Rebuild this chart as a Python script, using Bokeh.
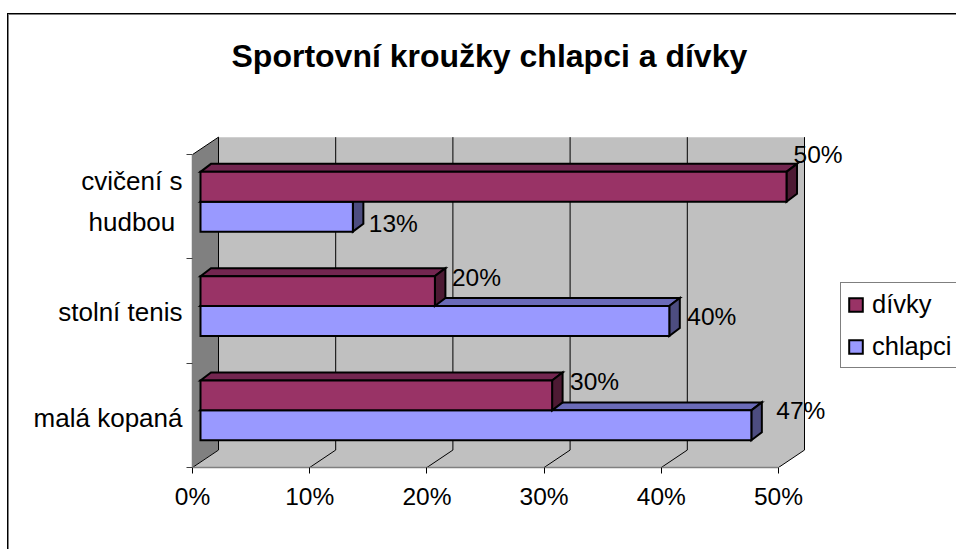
from bokeh.plotting import figure
from bokeh.core.properties import value
from bokeh.models import (ColumnDataSource, FixedTicker, LabelSet, Legend, LegendItem, Range1d)
from bokeh.embed import file_html
from bokeh.resources import INLINE

title_text = "Sportovní kroužky chlapci a dívky"
categories = ["malá kopaná", "stolní tenis", "cvičení s\nhudbou\u00a0"]
divky = [30, 20, 50]
chlapci = [47, 40, 13]
value_ticks = [0, 10, 20, 30, 40, 50]

FONT = "Liberation Sans"
PCT_PX, CAT_PX = 11.72, 104.6     # scale of the two axes, px per unit
FIG_W, FIG_H = 956, 549
BORDER_L, BORDER_R, BORDER_T, BORDER_B = 192, 0, 112, 82

def px_x(px): return px / PCT_PX
def px_y(px): return px / CAT_PX

WALL_DX, WALL_DY = px_x(26), px_y(17.5)
BAR_X0, BAR_DY = px_x(8), px_y(5)
BAR_DEPTH_X, BAR_DEPTH_Y = px_x(10.5), px_y(8)
BAR_H = px_y(30)
n = len(categories)
vmax = value_ticks[-1]

p = figure(width=FIG_W, height=FIG_H, output_backend="svg", toolbar_location=None,
           x_range=Range1d(0, px_x(FIG_W - BORDER_L - BORDER_R)),
           y_range=Range1d(0, px_y(FIG_H - BORDER_T - BORDER_B)),
           min_border_left=BORDER_L, min_border_right=BORDER_R,
           min_border_top=BORDER_T, min_border_bottom=BORDER_B,
           background_fill_color=None, border_fill_color=None)
p.outline_line_color = None
p.grid.visible = False

# chart-area border, open on the right and bottom as in the reference
def css_line(color, x, y, w, h):
    return f"linear-gradient({color},{color}) {x}px {y}px/{w} {h} no-repeat"

p.styles = {"background": ",".join([
    css_line("#000", 7, 13, "1px", "100%"),
    css_line("#000", 7, 13, "100%", "1px"),
    css_line("#808080", 8, 14, "1px", "100%"),
    css_line("#808080", 8, 14, "100%", "1px"),
])}

# title
p.title.text = title_text
p.title.text_font = FONT
p.title.text_font_size = "32px"
p.title.text_font_style = "bold"
p.title.text_color = "black"
p.title.align = "left"
p.title.offset = 39
p.title.vertical_align = "top"
p.title.standoff = 75

# walls and floor
p.patch([0, WALL_DX, WALL_DX, 0], [0, WALL_DY, n + WALL_DY, n], fill_color="#808080", line_color=None)
p.patch([WALL_DX, vmax + WALL_DX, vmax + WALL_DX, WALL_DX], [WALL_DY, WALL_DY, n + WALL_DY, n + WALL_DY],
        fill_color="#c0c0c0", line_color=None)
p.patch([0, vmax, vmax + WALL_DX, WALL_DX], [0, 0, WALL_DY, WALL_DY], fill_color="#c0c0c0", line_color=None)

# gridlines on wall and floor
gx0 = [v + WALL_DX for v in value_ticks]
p.segment(gx0, [WALL_DY] * len(gx0), gx0, [n + WALL_DY] * len(gx0), line_color="black", line_width=1)
p.segment(value_ticks, [0] * len(gx0), gx0, [WALL_DY] * len(gx0), line_color="black", line_width=1)
p.segment([0], [n], [WALL_DX], [n + WALL_DY], line_color="black", line_width=1)


def draw_series(values, lower, front, top, side):
    x0 = [BAR_X0] * n
    x1 = [v + BAR_X0 for v in values]
    y0 = [i + 0.5 + BAR_DY + (-BAR_H if lower else 0) for i in range(n)]
    y1 = [b + BAR_H for b in y0]
    style = dict(line_color="black", line_width=2, line_join="miter")
    p.patches([[a, b, b + BAR_DEPTH_X, a + BAR_DEPTH_X] for a, b in zip(x0, x1)],
              [[t, t, t + BAR_DEPTH_Y, t + BAR_DEPTH_Y] for t in y1], fill_color=top, **style)
    p.patches([[b, b + BAR_DEPTH_X, b + BAR_DEPTH_X, b] for b in x1],
              [[s, s + BAR_DEPTH_Y, t + BAR_DEPTH_Y, t] for s, t in zip(y0, y1)], fill_color=side, **style)
    return p.quad(left=x0, right=x1, bottom=y0, top=y1, fill_color=front, **style)


r_chlapci = draw_series(chlapci, True, "#9999ff", "#6b6bb8", "#4d4d80")
r_divky = draw_series(divky, False, "#993366", "#732650", "#4d1a33")

# axes
xa = p.xaxis[0]
xa.ticker = FixedTicker(ticks=value_ticks, minor_ticks=[])
xa.bounds = (0, vmax)
xa.major_label_overrides = {v: f"{v}%" for v in value_ticks}
xa.axis_line_color = "#808080"
xa.axis_line_width = 1.5
xa.major_tick_line_color = "black"
xa.major_tick_out = 6
xa.major_tick_in = 0
xa.major_label_standoff = 9
xa.major_label_text_font = FONT
xa.major_label_text_font_size = "24.5px"
xa.major_label_text_color = "black"

LABEL_POS = [0.47, 1.49, 2.55]
ya = p.yaxis[0]
ya.ticker = FixedTicker(ticks=LABEL_POS, minor_ticks=list(range(n + 1)))
ya.bounds = (0, n)
ya.major_label_overrides = {pos: c for pos, c in zip(LABEL_POS, categories)}
ya.axis_line_color = "#808080"
ya.axis_line_width = 1.5
ya.major_tick_out = 0
ya.major_tick_in = 0
ya.minor_tick_out = 6
ya.minor_tick_in = 0
ya.minor_tick_line_color = "#404040"
ya.major_label_standoff = 4
ya.major_label_text_font = FONT
ya.major_label_text_font_size = "26px"
ya.major_label_text_color = "black"
ya.major_label_text_line_height = 1.35

# data labels
lab_x, lab_y, lab_t = [], [], []
for i in range(n):
    lab_x += [chlapci[i] + BAR_X0, divky[i] + BAR_X0]
    lab_y += [i + 0.5 + BAR_DY - BAR_H / 2, i + 0.5 + BAR_DY + BAR_H / 2]
    lab_t += [f"{chlapci[i]}%", f"{divky[i]}%"]
label_dx = [25, 18, 18, 17, 16, 7]
label_dy = [15, 14, 5, 14, -7, 32]
src = ColumnDataSource(dict(x=lab_x, y=lab_y, t=lab_t, dx=label_dx, dy=label_dy))
p.add_layout(LabelSet(x="x", y="y", text="t", source=src, x_offset="dx", y_offset="dy",
                      text_font=value(FONT), text_font_size="24.5px", text_color="black",
                      text_align="left", text_baseline="middle"))

# legend
legend = Legend(items=[LegendItem(label="dívky", renderers=[r_divky]),
                       LegendItem(label="chlapci", renderers=[r_chlapci])],
                location=(648, 99), orientation="vertical",
                label_text_font=FONT, label_text_font_size="25.5px", label_text_color="black",
                glyph_width=17, glyph_height=17, label_standoff=8, label_height=30, label_width=80,
                spacing=12, padding=6, margin=0,
                border_line_color="black", border_line_width=1,
                background_fill_color="white", background_fill_alpha=1)
p.add_layout(legend)

open("out.html", "w").write(file_html(p, INLINE))
